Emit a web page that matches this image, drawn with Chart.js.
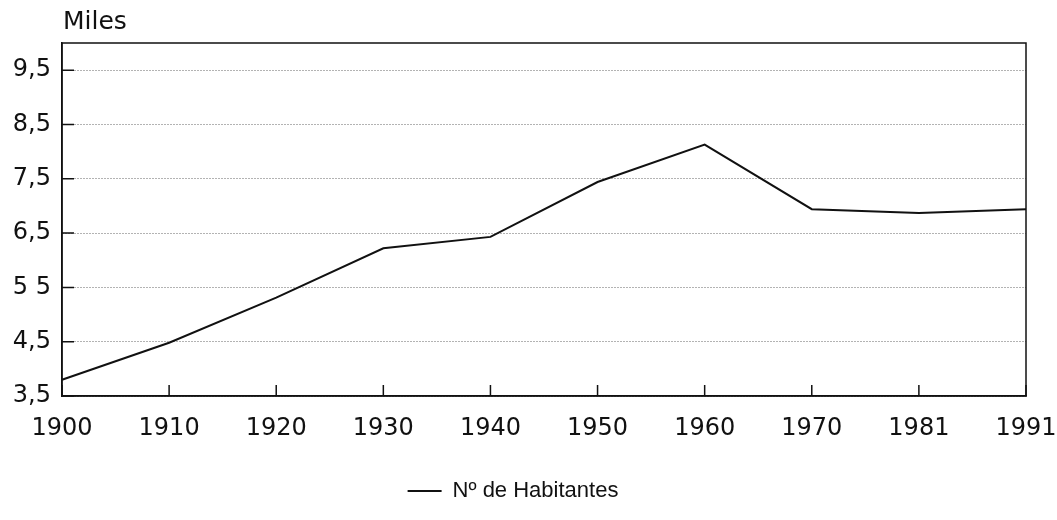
<!DOCTYPE html>
<html>
<head>
<meta charset="utf-8">
<title>Nº de Habitantes</title>
<script src="https://cdn.jsdelivr.net/npm/chart.js@4.4.0/dist/chart.umd.min.js"></script>
<style>
  html, body { margin: 0; padding: 0; background: #fff; }
  #wrap { width: 1057px; height: 520px; position: relative; }
</style>
</head>
<body>
<div id="wrap"><canvas id="chart"></canvas></div>
<script>
'use strict';

// ---- Data ----
const years = ['1900', '1910', '1920', '1930', '1940', '1950', '1960', '1970', '1981', '1991'];
const habitantes = [3.80, 4.48, 5.31, 6.22, 6.43, 7.44, 8.13, 6.94, 6.87, 6.94];
const yTickValues = [3.5, 4.5, 5.5, 6.5, 7.5, 8.5, 9.5];
const yTickLabels = ['3,5', '4,5', '5 5', '6,5', '7,5', '8,5', '9,5'];
const unitLabel = 'Miles';
const seriesLabel = 'Nº de Habitantes';

const FONT = '"DejaVu Sans", "Liberation Sans", Arial, sans-serif';
const INK = '#111';

// ---- Frame, inward tick marks and unit label ----
const framePlugin = {
  id: 'frame',
  afterDraw(chart) {
    const { ctx, chartArea: a, scales } = chart;
    ctx.save();
    ctx.strokeStyle = INK;
    ctx.lineWidth = 1.5;
    ctx.strokeRect(a.left, a.top, a.right - a.left, a.bottom - a.top);

    ctx.beginPath();
    scales.y.ticks.forEach((t, i) => {
      const y = scales.y.getPixelForTick(i);
      ctx.moveTo(a.left, y);
      ctx.lineTo(a.left + 12, y);
    });
    scales.x.ticks.forEach((t, i) => {
      const x = scales.x.getPixelForTick(i);
      ctx.moveTo(x, a.bottom);
      ctx.lineTo(x, a.bottom - 11);
    });
    ctx.stroke();

    ctx.fillStyle = INK;
    ctx.font = '25px ' + FONT;
    ctx.textAlign = 'left';
    ctx.textBaseline = 'alphabetic';
    ctx.fillText(unitLabel, a.left + 1, 29);
    ctx.restore();
  }
};

new Chart(document.getElementById('chart'), {
  type: 'line',
  data: {
    labels: years,
    datasets: [{
      label: seriesLabel,
      data: habitantes,
      borderColor: INK,
      backgroundColor: INK,
      borderWidth: 2,
      pointRadius: 0,
      tension: 0,
      fill: false,
    }]
  },
  options: {
    responsive: true,
    maintainAspectRatio: false,
    animation: false,
    devicePixelRatio: 1,
    layout: { padding: { top: 43, right: 31, left: 0, bottom: 8 } },
    plugins: {
      tooltip: { enabled: false },
      legend: {
        position: 'bottom',
        labels: {
          color: INK,
          font: { family: '"Liberation Sans", Arial, sans-serif', size: 22 },
          usePointStyle: true,
          pointStyle: 'line',
          pointStyleWidth: 34,
          boxHeight: 22,
          padding: 10,
        }
      }
    },
    scales: {
      x: {
        type: 'category',
        offset: false,
        grid: { display: false, drawTicks: false },
        border: { display: true, color: INK, width: 1.5 },
        ticks: {
          color: INK,
          font: { family: FONT, size: 24 },
          padding: 18,
          maxRotation: 0,
          autoSkip: false,
        },
        afterFit: (s) => { s.height = 74; s.paddingLeft = 0; s.paddingRight = 0; }
      },
      y: {
        min: 3.5,
        max: 10,
        afterBuildTicks: (s) => { s.ticks = yTickValues.map(v => ({ value: v })); },
        grid: { color: '#666', lineWidth: 1, drawTicks: false },
        border: { display: true, color: INK, width: 1.5, dash: [1, 2] },
        ticks: {
          color: INK,
          font: { family: FONT, size: 24 },
          padding: 11,
          callback: (v) => yTickLabels[yTickValues.indexOf(v)],
        },
        afterFit: (s) => { s.width = 62; }
      }
    }
  },
  plugins: [framePlugin]
});
</script>
</body>
</html>
